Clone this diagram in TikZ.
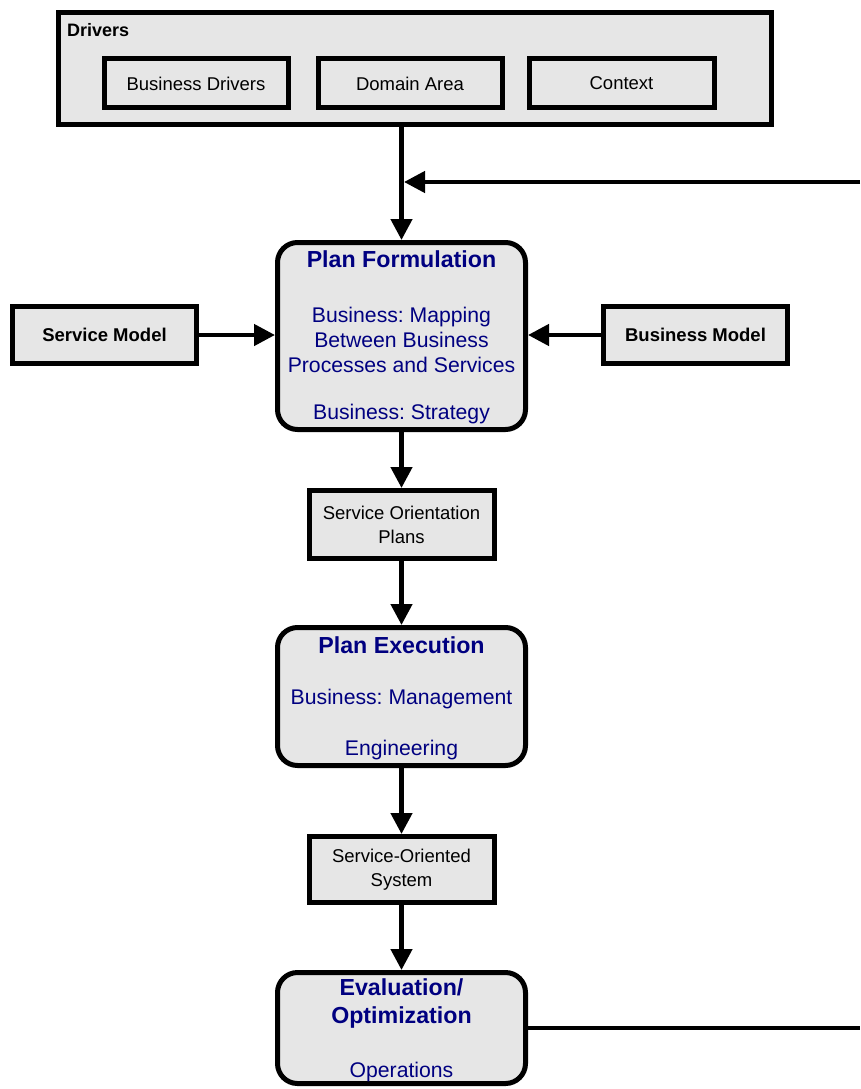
\documentclass[tikz,border=0pt]{standalone}
\usepackage{fontspec}
\setmainfont{Liberation Sans}
\usetikzlibrary{arrows.meta}
\definecolor{boxfill}{RGB}{230,230,230}
\definecolor{navyblue}{RGB}{0,0,128}
\frenchspacing
\begin{document}
\begin{tikzpicture}[x=1pt,y=-1pt,
  box/.style={draw=black,line width=5pt,fill=boxfill,inner sep=0pt},
  rbox/.style={box,rounded corners=20pt},
  arr/.style={line width=4.5pt,-{Triangle[length=21pt,width=21pt]}},
  plainline/.style={line width=4.5pt},
  smalltxt/.style={inner sep=0pt,font=\fontsize{18.5}{24}\selectfont,align=center},
  boldtxt/.style={inner sep=0pt,font=\fontsize{18.5}{24}\selectfont\bfseries,align=center},
  titletxt/.style={inner sep=0pt,text=navyblue,font=\fontsize{23.2}{28}\selectfont\bfseries,align=center},
  bluetxt/.style={inner sep=0pt,text=navyblue,font=\fontsize{21.2}{25}\selectfont,align=center}]
\useasboundingbox (0,0) rectangle (860,1089);

% Drivers group
\node[box,minimum width=713pt,minimum height=112pt] (drivers) at (415,68.5) {};
\node[boldtxt,anchor=west,font=\fontsize{18}{24}\selectfont\bfseries] (driverslbl) at (67,30) {Drivers};
\node[box,minimum width=184pt,minimum height=49pt] (bd) at (196,83.5) {};
\node[smalltxt] (bdlbl) at (bd) {Business Drivers};
\node[box,minimum width=184pt,minimum height=49pt] (da) at (410,83.5) {};
\node[smalltxt] (dalbl) at (da) {Domain Area};
\node[box,minimum width=185pt,minimum height=49pt] (ctx) at (621.5,83.5) {};
\node[smalltxt] (ctxlbl) at (ctx) {Context};

% Plan Formulation
\node[rbox,minimum width=248pt,minimum height=187pt] (pf) at (401.5,336) {};
\node[titletxt] (pftitle) at (401.5,259) {Plan Formulation};
\node[bluetxt] (pfbody) at (401.5,339.5) {Business: Mapping\\Between Business\\Processes and Services};
\node[bluetxt] (pfstrat) at (401.5,414.5) {Business: Strategy};

% Side models
\node[box,minimum width=184pt,minimum height=57pt] (sm) at (104.5,335) {};
\node[boldtxt] (smlbl) at (sm) {Service Model};
\node[box,minimum width=184pt,minimum height=57pt] (bm) at (695.5,335) {};
\node[boldtxt] (bmlbl) at (bm) {Business Model};

% Service Orientation Plans
\node[box,minimum width=185pt,minimum height=68pt] (sop) at (401.5,524.5) {};
\node[smalltxt] (soplbl) at (sop) {Service Orientation\\Plans};

% Plan Execution
\node[rbox,minimum width=248pt,minimum height=138pt] (pe) at (401.5,696.5) {};
\node[titletxt] (petitle) at (401.5,645) {Plan Execution};
\node[bluetxt] (pemgmt) at (401.5,699.5) {Business: Management};
\node[bluetxt] (peeng) at (401.5,750.5) {Engineering};

% Service-Oriented System
\node[box,minimum width=185pt,minimum height=66pt] (sos) at (401.5,869.5) {};
\node[smalltxt] (soslbl) at (sos) {Service-Oriented\\System};

% Evaluation / Optimization
\node[rbox,minimum width=248pt,minimum height=111pt] (ev) at (401.5,1028) {};
\node[titletxt] (evtitle) at (401.5,1003) {Evaluation/\\Optimization};
\node[bluetxt] (evops) at (401.5,1072.5) {Operations};

% Feedback loop ends (cut off at right edge)
\coordinate (fbtop) at (860,182);
\coordinate (fbbot) at (860,1028);
\coordinate (fbjoin) at (404,182);

% Connectors
\draw[arr] (pf.north |- drivers.south) -- (pf.north);
\draw[arr] (fbtop) -- (fbjoin);
\draw[arr] (sm.east) -- (sm.east -| pf.west);
\draw[arr] (bm.west) -- (bm.west -| pf.east);
\draw[arr] (pf.south) -- (sop.north);
\draw[arr] (sop.south) -- (pe.north);
\draw[arr] (pe.south) -- (sos.north);
\draw[arr] (sos.south) -- (ev.north);
\draw[plainline] (ev.east) -- (fbbot);
\end{tikzpicture}
\end{document}
